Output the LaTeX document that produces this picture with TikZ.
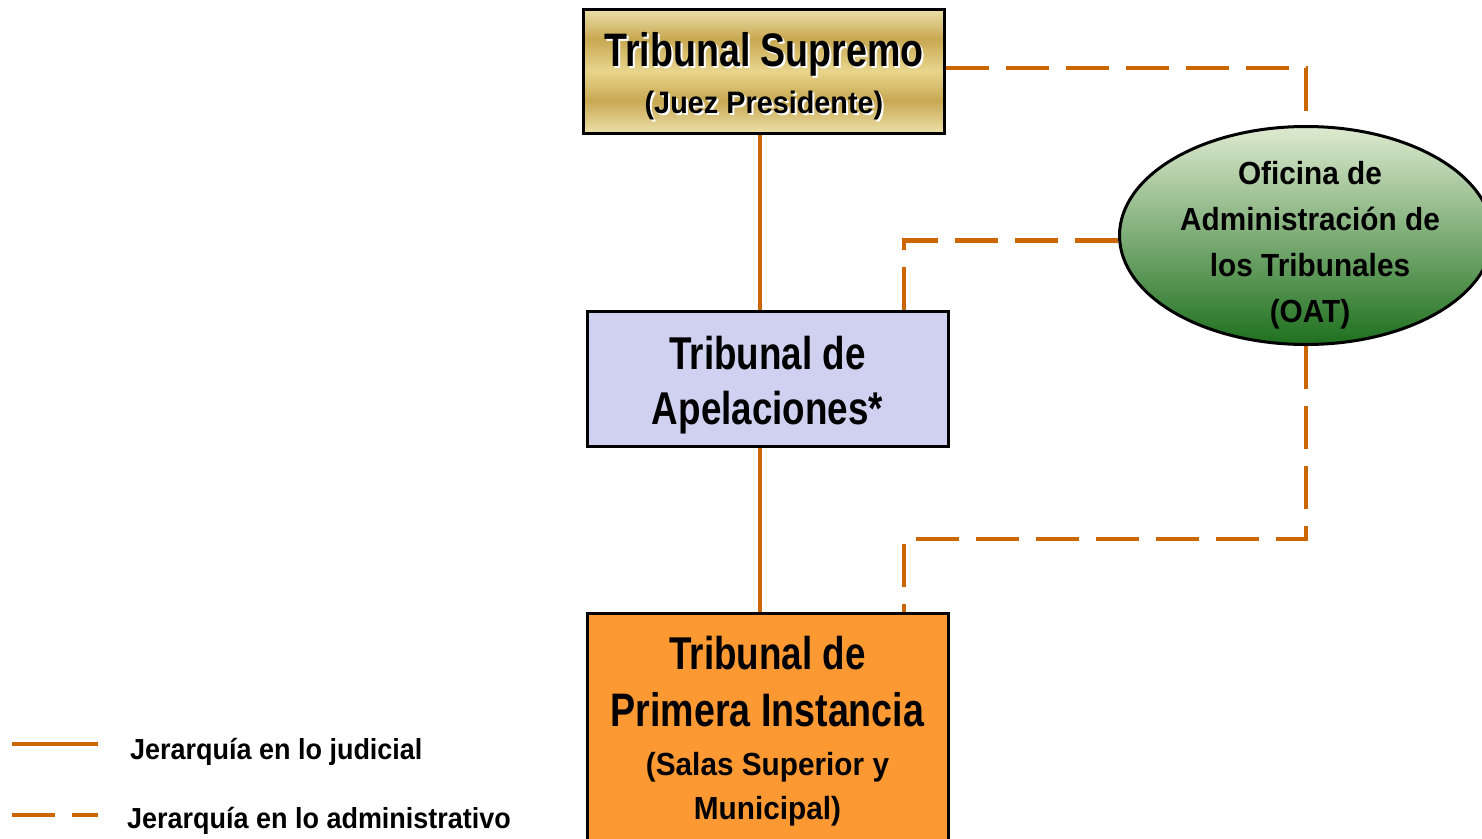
\documentclass[tikz,border=0pt]{standalone}
\usepackage{fontspec}
\usepackage{tikz}
\usetikzlibrary{shapes.geometric,backgrounds}
\newfontfamily\bigfont{Liberation Sans}[FakeStretch=0.8]
\newfontfamily\smallfont{Liberation Sans}[FakeStretch=0.93]
\definecolor{linea}{RGB}{204,102,0}
\definecolor{lila}{RGB}{208,208,240}
\definecolor{naranja}{RGB}{253,153,51}
\definecolor{oroA}{RGB}{236,224,170}
\definecolor{oroB}{RGB}{200,168,82}
\definecolor{oroC}{RGB}{232,213,140}
\definecolor{verdeA}{RGB}{222,234,208}
\definecolor{verdeB}{RGB}{140,178,98}
\definecolor{verdeC}{RGB}{30,112,30}
\pgfdeclareverticalshading{oro}{100bp}{color(0bp)=(oroA); color(25bp)=(oroA); color(38bp)=(oroB); color(50bp)=(oroC); color(63bp)=(oroB); color(75bp)=(oroA); color(100bp)=(oroA)}
\tikzset{
  caja/.style={draw=black,line width=3pt,minimum width=361pt,inner sep=0pt},
  judicial/.style={linea,line width=4.5pt},
  admin/.style={linea,line width=4.5pt,dash pattern=on 43pt off 17pt},
  grande/.style={align=center,inner sep=0pt},
  leyenda/.style={font=\smallfont\bfseries\fontsize{29}{29}\selectfont,inner sep=0pt,anchor=base west}
}

\begin{document}
\begin{tikzpicture}[x=1pt,y=-1pt]
\useasboundingbox (0,0) rectangle (1482,838);
\node[caja,minimum height=124pt,shade,shading=oro] (sup) at (764,71) {};
\node[caja,minimum height=135pt,fill=lila] (apel) at (767.5,378.5) {};
\node[caja,minimum height=247pt,fill=naranja] (prim) at (767.5,736.5) {};
\node[ellipse,draw=black,line width=3pt,minimum width=373pt,minimum height=218pt,top color=verdeA,middle color=verdeB,bottom color=verdeC] (oat) at (1306,235.5) {};

\node[grande,white,font=\bigfont\bfseries\fontsize{31}{47}\selectfont] (supsombra) at ([xshift=2pt,yshift=-7pt]sup.center) {{\fontsize{47}{47}\selectfont Tribunal Supremo}\\{\smallfont (Juez Presidente)}};
\node[grande,font=\bigfont\bfseries\fontsize{31}{47}\selectfont] (suptxt) at ([yshift=-5pt]sup.center) {{\fontsize{47}{47}\selectfont Tribunal Supremo}\\{\smallfont (Juez Presidente)}};
\node[grande,font=\bigfont\bfseries\fontsize{46}{55}\selectfont] (apeltxt) at ([yshift=-7pt]apel.center) {Tribunal de\\Apelaciones*};
\node[grande,font=\smallfont\bfseries\fontsize{32}{44}\selectfont] (primtxt) at ([yshift=5pt]prim.center) {{\bigfont\fontsize{46}{46}\selectfont Tribunal de}\\[13pt]{\bigfont\fontsize{47}{47}\selectfont Primera Instancia}\\[5pt](Salas Superior y\\Municipal)};
\node[grande,font=\smallfont\bfseries\fontsize{32}{46}\selectfont] (oattxt) at ([xshift=4pt,yshift=-10pt]oat.center) {Oficina de\\Administración de\\los Tribunales\\(OAT)};

\coordinate (codo) at (904,539);
\begin{scope}[on background layer]
\draw[judicial] ([xshift=-4pt]sup.south) -- ([xshift=-4pt]sup.south |- apel.north);
\draw[judicial] ([xshift=-4pt]sup.south |- apel.south) -- ([xshift=-4pt]sup.south |- prim.north);
\draw[admin] ([yshift=3pt]sup.east) -| (oat.north);
\draw[admin] ([yshift=-5pt]oat.west) -| ([xshift=136.5pt]apel.north);
\draw[admin] (oat.south) |- (codo) -- (codo |- prim.north);
\end{scope}

\coordinate (jud1) at (12,744);
\coordinate (jud2) at (98,744);
\coordinate (adm1) at (12,815);
\coordinate (adm2) at (98,815);
\draw[judicial] (jud1) -- (jud2);
\draw[admin] (adm1) -- (adm2);
\node[leyenda] (judtxt) at (130,759) {Jerarquía en lo judicial};
\node[leyenda] (admtxt) at (127,828) {Jerarquía en lo administrativo};
\end{tikzpicture}
\end{document}
